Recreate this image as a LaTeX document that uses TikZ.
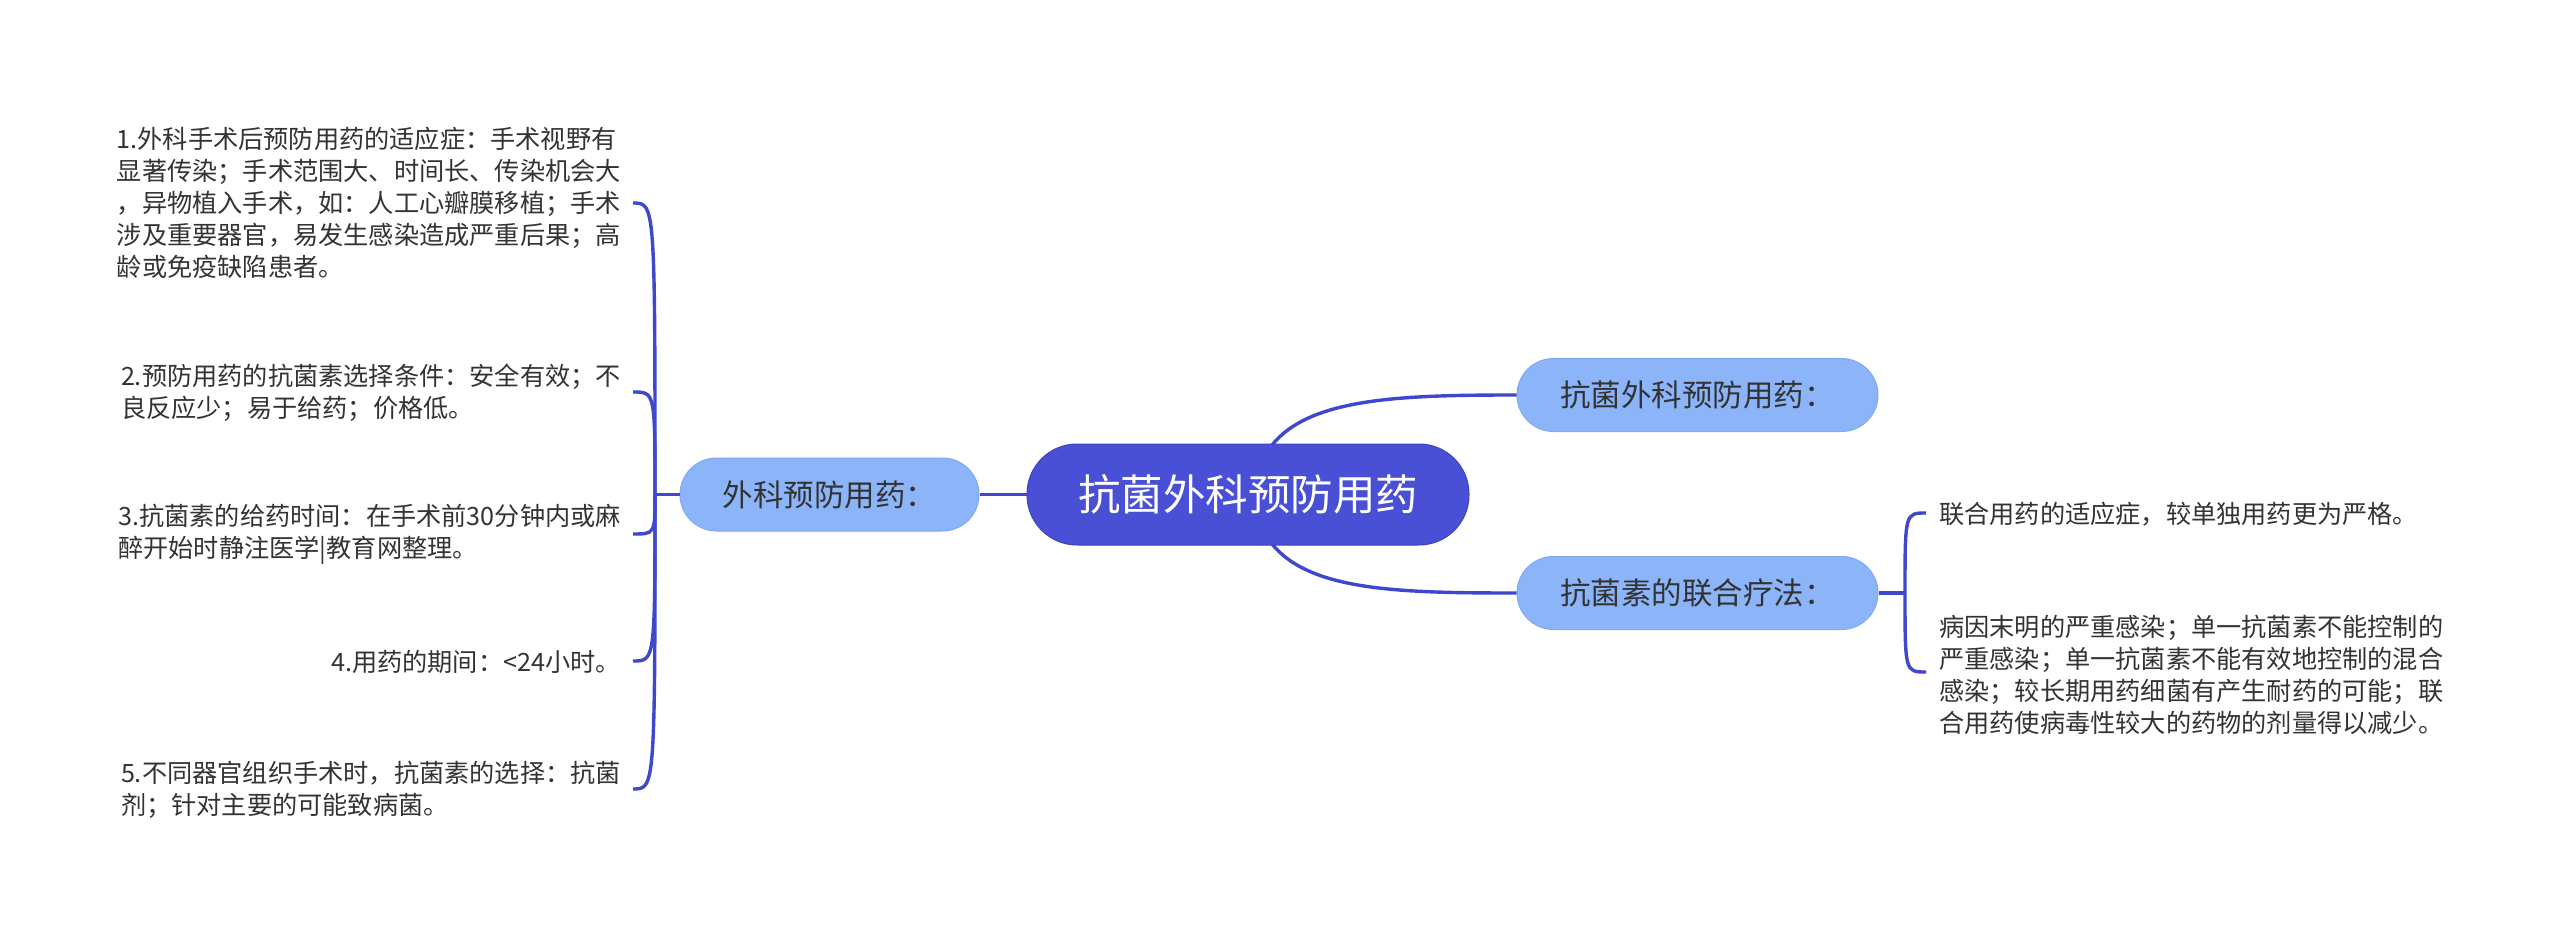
\documentclass[tikz,border=0pt]{standalone}
\usepackage{fontspec}
\newfontfamily\cjk{Noto Sans CJK SC}
\definecolor{linec}{HTML}{3F48CC}
\definecolor{rootfill}{HTML}{4A50D6}
\definecolor{rootdraw}{HTML}{3E43BD}
\definecolor{subfill}{HTML}{8CB4F9}
\definecolor{subdraw}{HTML}{7FA9F2}
\definecolor{txt}{HTML}{333333}
\tikzset{
  conn/.style={draw=linec, line width=3.4pt},
  rootnode/.style={fill=rootfill, draw=rootdraw, line width=1pt, rounded corners=50pt,
    minimum width=442pt, minimum height=101pt, inner sep=0pt, text=white,
    font=\cjk\fontsize{42.5}{50}\selectfont},
  subnode/.style={fill=subfill, draw=subdraw, line width=1pt, rounded corners=36.5pt,
    minimum height=73pt, inner sep=0pt, text=txt,
    font=\cjk\fontsize{30.5}{36}\selectfont},
  leaf/.style={inner sep=0pt, text=txt, align=left,
    font=\cjk\fontsize{25.2}{32}\selectfont},
}
\begin{document}
\begin{tikzpicture}[x=1pt,y=-1pt]
\useasboundingbox[fill=white] (0,0) rectangle (2560,941);

% junction coordinates
\coordinate (jl) at (655,494.5);
\coordinate (jr) at (1905,593);
\coordinate (e1) at (633,203);
\coordinate (e2) at (633,392);
\coordinate (e3) at (633,534);
\coordinate (e4) at (633,661);
\coordinate (e5) at (633,789);
\coordinate (f1) at (1926,513);
\coordinate (f2) at (1926,672);

% nodes
\node[rootnode] (root) at (1248,494.5) {抗菌外科预防用药};
\node[subnode, minimum width=299pt] (left) at (829.5,494.5) {外科预防用药：};
\node[subnode, minimum width=361pt] (rt) at (1697.5,395) {抗菌外科预防用药：};
\node[subnode, minimum width=361pt] (rb) at (1697.5,593) {抗菌素的联合疗法：};

% left leaves
\node[leaf, anchor=east] (l1) at (621,203) {1.外科手术后预防用药的适应症：手术视野有\\显著传染；手术范围大、时间长、传染机会大\\，异物植入手术，如：人工心瓣膜移植；手术\\涉及重要器官，易发生感染造成严重后果；高\\龄或免疫缺陷患者。};
\node[leaf, anchor=east] (l2) at (621,393) {2.预防用药的抗菌素选择条件：安全有效；不\\良反应少；易于给药；价格低。};
\node[leaf, anchor=east] (l3) at (621,534) {3.抗菌素的给药时间：在手术前30分钟内或麻\\醉开始时静注医学|教育网整理。};
\node[leaf, anchor=east] (l4) at (621,662) {4.用药的期间：<24小时。};
\node[leaf, anchor=east] (l5) at (621,790) {5.不同器官组织手术时，抗菌素的选择：抗菌\\剂；针对主要的可能致病菌。};

% right leaves
\node[leaf, anchor=west] (r1) at (1939,514) {联合用药的适应症，较单独用药更为严格。};
\node[leaf, anchor=west] (r2) at (1939,675) {病因末明的严重感染；单一抗菌素不能控制的\\严重感染；单一抗菌素不能有效地控制的混合\\感染；较长期用药细菌有产生耐药的可能；联\\合用药使病毒性较大的药物的剂量得以减少。};

% connectors
\draw[conn] (root.west) -- (left.east);
\draw[conn] (left.west) -- (jl);
\foreach \e in {e1,e2,e3,e4,e5}{
  \draw[conn] (jl) .. controls (jl |- \e) and (jl |- \e) .. (\e);
}
\draw[conn] (rb.east) -- (jr);
\foreach \e in {f1,f2}{
  \draw[conn] (jr) .. controls (jr |- \e) and (jr |- \e) .. (\e);
}
\draw[conn] (1272,445) .. controls (1310,398) and (1400,395) .. (rt.west);
\draw[conn] (1272,544) .. controls (1310,591) and (1400,593) .. (rb.west);
\end{tikzpicture}
\end{document}
